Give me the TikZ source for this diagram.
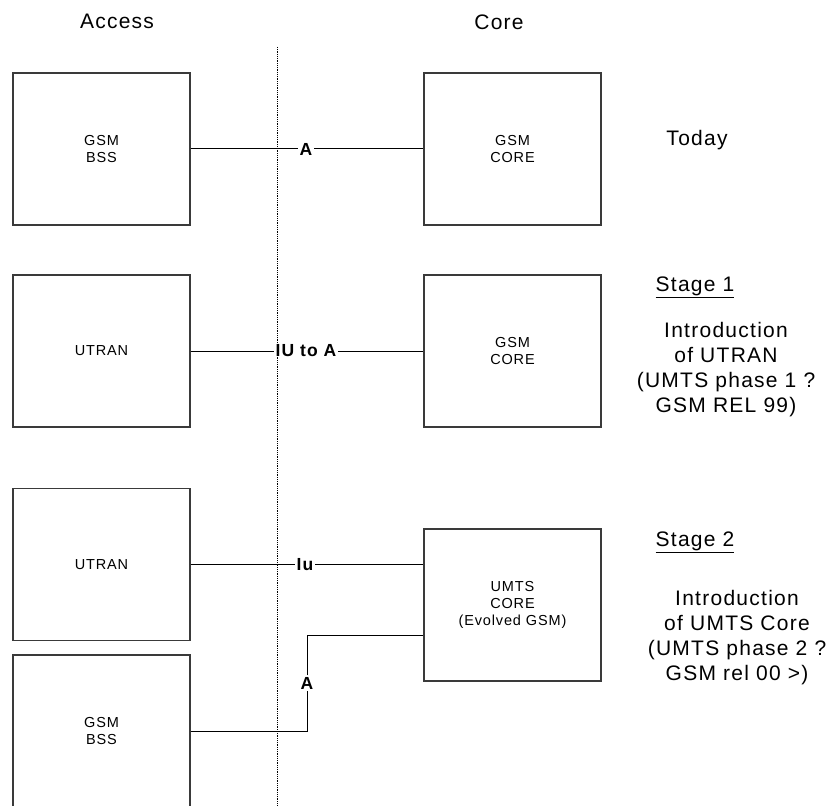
\documentclass[tikz,border=0pt]{standalone}
\usepackage{fontspec}
\setmainfont[LetterSpace=6]{Liberation Sans}
\usepackage{xcolor}
\definecolor{boxline}{HTML}{3A3A3A}

\begin{document}
\begin{tikzpicture}[x=1pt, y=-1pt,
  box/.style={draw=boxline, line width=1.2pt, minimum width=177pt, minimum height=152pt, align=center, font=\fontsize{14.5}{17}\selectfont},
  lbl/.style={fill=white, inner sep=1.5pt, font=\fontsize{17.5}{20}\selectfont\bfseries},
  head/.style={align=center, font=\fontsize{21}{25}\selectfont},
  link/.style={black, line width=1pt}
]
  \useasboundingbox (0,0) rectangle (834,805);

  \node[head] (access) at (117,21) {Access};
  \node[head] (core) at (499,22) {Core};

  % today
  \node[box] (bss) at (101.5,149) {GSM\\BSS};
  \node[box] (gcore) at (512.5,149) {GSM\\CORE};
  \node[head] (today) at (697,140) {Today};
  \node[lbl] (a1) at (306,149) {A};
  \draw[link] (bss) -- (a1) -- (gcore);

  % stage 1
  \node[box] (utran) at (101.5,351) {UTRAN};
  \node[box] (gcore2) at (512.5,351) {GSM\\CORE};
  \node[head] (st1) at (695,287) {\underline{Stage 1}};
  \node[head] (intro1) at (726,370) {Introduction\\of UTRAN\\(UMTS phase 1 ?\\GSM REL 99)};
  \node[lbl] (iua) at (306,351) {IU to A};
  \draw[link] (utran) -- (iua) -- (gcore2);

  % stage 2
  \node[box] (utran2) at (101.5,564.5) {UTRAN};
  \node[box] (ucore) at (512.5,605) {UMTS\\CORE\\(Evolved GSM)};
  \node[box] (bss2) at (101.5,731) {GSM\\BSS};
  \node[head] (st2) at (695,542) {\underline{Stage 2}};
  \node[head] (intro2) at (737,638) {Introduction\\of UMTS Core\\(UMTS phase 2 ?\\GSM rel 00 >)};
  \node[lbl] (iu) at (305,564.5) {Iu};
  \draw[link] (utran2) -- (iu) -- (iu -| ucore.west);
  \node[lbl] (a2) at (307,683) {A};
  \coordinate (bendlo) at (307,731);
  \coordinate (bendhi) at (307,635);
  \draw[link] (bss2) -- (bendlo) -- (a2);
  \draw[link] (a2) -- (bendhi) -- (bendhi -| ucore.west);

  % access / core split
  \coordinate (splittop) at (277,47);
  \coordinate (splitbot) at (277,805);
  \draw[densely dotted, line width=0.8pt] (splittop) -- (splitbot);
\end{tikzpicture}
\end{document}
